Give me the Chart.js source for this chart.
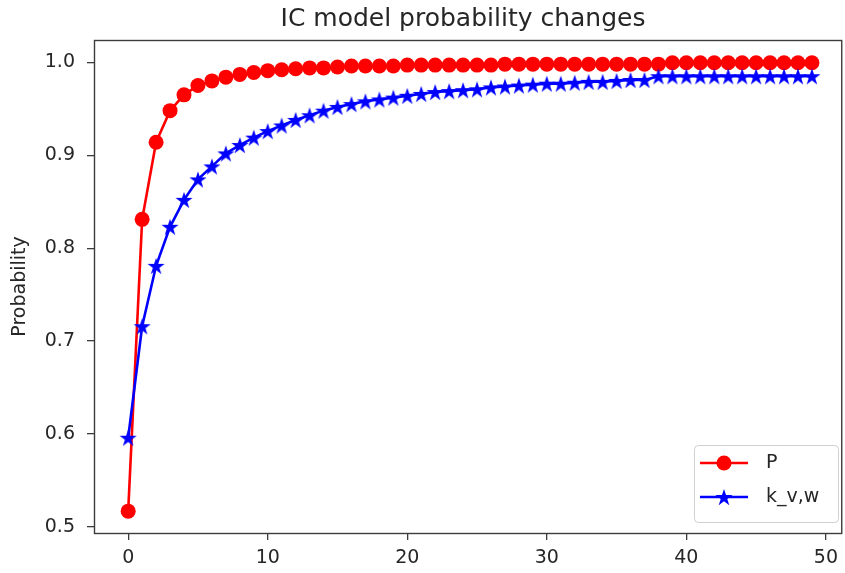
<!DOCTYPE html>
<html>
<head>
<meta charset="utf-8">
<title>IC model probability changes</title>
<script src="https://cdn.jsdelivr.net/npm/chart.js@4/dist/chart.umd.min.js"></script>
<style>
  html, body { margin: 0; padding: 0; background: #fff; overflow: hidden; }
  #chart { display: block; }
</style>
</head>
<body>
<canvas id="chart" width="845" height="573"></canvas>
<script>
// iteration steps on the x axis
const steps = [0, 1, 2, 3, 4, 5, 6, 7, 8, 9,
  10, 11, 12, 13, 14, 15, 16, 17, 18, 19,
  20, 21, 22, 23, 24, 25, 26, 27, 28, 29,
  30, 31, 32, 33, 34, 35, 36, 37, 38, 39,
  40, 41, 42, 43, 44, 45, 46, 47, 48, 49];

// P (red circles)
const pValues = [0.517, 0.831, 0.914, 0.948, 0.965, 0.975, 0.980, 0.984, 0.987, 0.989,
  0.991, 0.992, 0.993, 0.994, 0.994, 0.995, 0.996, 0.996, 0.996, 0.996,
  0.997, 0.997, 0.997, 0.997, 0.997, 0.997, 0.997, 0.998, 0.998, 0.998,
  0.998, 0.998, 0.998, 0.998, 0.998, 0.998, 0.998, 0.998, 0.998, 0.9995,
  0.9995, 0.9995, 0.9995, 0.9995, 0.9995, 0.9995, 0.9995, 0.9995, 0.9995, 0.9995];

// k_v,w (blue stars)
const kValues = [0.596, 0.716, 0.781, 0.823, 0.852, 0.874, 0.888, 0.902, 0.911, 0.919,
  0.926, 0.932, 0.938, 0.943, 0.948, 0.952, 0.955, 0.958, 0.960, 0.962,
  0.964, 0.966, 0.968, 0.969, 0.970, 0.971, 0.973, 0.974, 0.975, 0.976,
  0.977, 0.977, 0.978, 0.979, 0.979, 0.980, 0.981, 0.981, 0.985, 0.985,
  0.985, 0.985, 0.985, 0.985, 0.985, 0.985, 0.985, 0.985, 0.985, 0.985];

const xTicks = [0, 10, 20, 30, 40, 50];
const yTicks = [0.5, 0.6, 0.7, 0.8, 0.9, 1.0];

const FONT = "'DejaVu Sans', sans-serif";
const TEXT = '#262626';
const AXIS = '#3c3c3c';

// matplotlib style filled star marker
function makeStar(color, outer) {
  const c = document.createElement('canvas');
  const s = Math.ceil(outer * 2 + 2);
  c.width = s; c.height = s;
  const g = c.getContext('2d');
  const inner = outer * 0.382;
  g.beginPath();
  for (let i = 0; i < 10; i++) {
    const r = i % 2 === 0 ? outer : inner;
    const a = -Math.PI / 2 + i * Math.PI / 5;
    const px = s / 2 + r * Math.cos(a);
    const py = s / 2 + r * Math.sin(a) + outer * 0.1;
    if (i === 0) g.moveTo(px, py); else g.lineTo(px, py);
  }
  g.closePath();
  g.fillStyle = color;
  g.fill();
  return c;
}
const star = makeStar('#0000ff', 9);

const overlay = {
  id: 'overlay',
  afterDraw(chart) {
    const ctx = chart.ctx;
    const a = chart.chartArea;
    ctx.save();

    // spines
    ctx.strokeStyle = AXIS;
    ctx.lineWidth = 1.4;
    ctx.strokeRect(a.left + 0.5, a.top + 0.5, a.right - a.left, a.bottom - a.top);

    // title
    ctx.fillStyle = TEXT;
    ctx.font = '25px ' + FONT;
    ctx.textAlign = 'center';
    ctx.textBaseline = 'middle';
    ctx.fillText('IC model probability changes', 463, 19);

    // legend
    const lx = 694.5, ly = 445.5, lw = 144, lh = 77;
    ctx.beginPath();
    ctx.roundRect(lx, ly, lw, lh, 4);
    ctx.fillStyle = 'rgba(255,255,255,0.8)';
    ctx.fill();
    ctx.strokeStyle = '#d0d0d0';
    ctx.lineWidth = 1;
    ctx.stroke();

    const ds = chart.data.datasets;
    const rows = [463, 497];
    ds.forEach((d, i) => {
      const y = rows[i];
      ctx.strokeStyle = d.borderColor;
      ctx.lineWidth = d.borderWidth;
      ctx.beginPath();
      ctx.moveTo(700, y);
      ctx.lineTo(748, y);
      ctx.stroke();
      if (d.pointStyle === 'circle') {
        ctx.fillStyle = d.backgroundColor;
        ctx.beginPath();
        ctx.arc(724, y, d.pointRadius, 0, Math.PI * 2);
        ctx.fill();
      } else {
        ctx.drawImage(d.pointStyle, 724 - d.pointStyle.width / 2, y - d.pointStyle.height / 2);
      }
      ctx.fillStyle = TEXT;
      ctx.font = '19px ' + FONT;
      ctx.textAlign = 'left';
      ctx.textBaseline = 'middle';
      ctx.fillText(d.label, 766, y);
    });
    ctx.restore();
  }
};

new Chart(document.getElementById('chart'), {
  type: 'line',
  data: {
    datasets: [
      {
        label: 'P',
        data: steps.map((s, i) => ({ x: s, y: pValues[i] })),
        borderColor: '#ff0000',
        backgroundColor: '#ff0000',
        borderWidth: 2.6,
        pointStyle: 'circle',
        pointRadius: 7.5,
        pointBorderWidth: 0,
        tension: 0,
        order: 2
      },
      {
        label: 'k_v,w',
        data: steps.map((s, i) => ({ x: s, y: kValues[i] })),
        borderColor: '#0000ff',
        backgroundColor: '#0000ff',
        borderWidth: 2.6,
        pointStyle: star,
        pointRadius: 8,
        tension: 0,
        order: 1
      }
    ]
  },
  options: {
    responsive: false,
    animation: false,
    devicePixelRatio: 1,
    layout: { autoPadding: false, padding: { top: 40, left: 0, right: 1, bottom: 0 } },
    plugins: {
      legend: { display: false },
      title: { display: false },
      tooltip: { enabled: false }
    },
    scales: {
      x: {
        type: 'linear',
        min: -2.45,
        max: 51.1,
        afterFit: s => { s.height = 40; },
        afterBuildTicks: s => { s.ticks = xTicks.map(v => ({ value: v })); },
        grid: { drawOnChartArea: false, tickLength: 7, color: AXIS, lineWidth: 1.3 },
        border: { display: false },
        ticks: { color: TEXT, font: { family: FONT, size: 19 }, padding: 7, maxRotation: 0 }
      },
      y: {
        min: 0.4935,
        max: 1.024,
        afterFit: s => { s.width = 94; },
        afterBuildTicks: s => { s.ticks = yTicks.map(v => ({ value: v })); },
        grid: { drawOnChartArea: false, tickLength: 7, color: AXIS, lineWidth: 1.3 },
        border: { display: false },
        ticks: { color: TEXT, font: { family: FONT, size: 19 }, padding: 12, callback: v => v.toFixed(1) },
        title: { display: true, text: 'Probability', color: TEXT, font: { family: FONT, size: 19 }, padding: { top: 9, bottom: 0 } }
      }
    }
  },
  plugins: [overlay]
});
</script>
</body>
</html>
